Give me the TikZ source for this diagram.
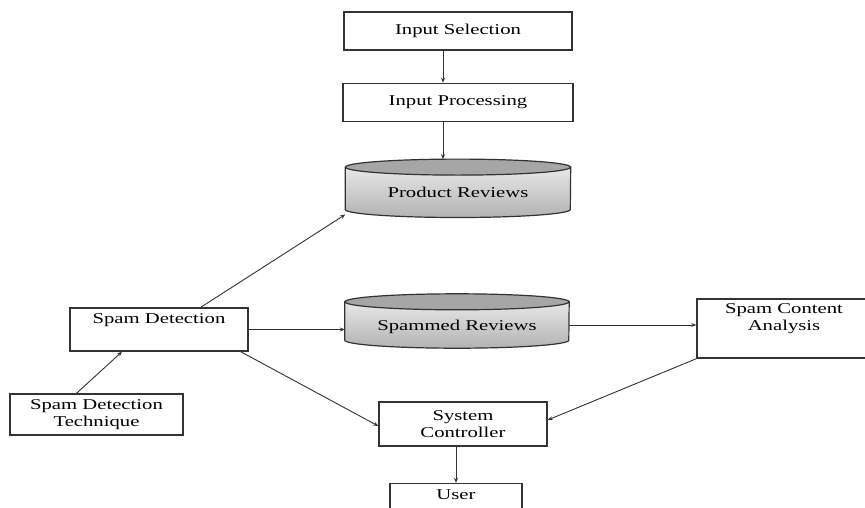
\documentclass[tikz,border=0pt]{standalone}
\usepackage{fontspec}
\setmainfont[FakeStretch=1.38]{Liberation Serif}
\usetikzlibrary{arrows.meta,%
                backgrounds,positioning,%
                calc
              }
\definecolor{boxline}{HTML}{333333}
\definecolor{cyltop}{HTML}{A6A6A6}
\definecolor{cyllight}{HTML}{E8E8E8}
\definecolor{cyldark}{HTML}{B2B2B2}
\def\setofcylinders{PR/112.5pt, SR/112pt}

\begin{document}
\begin{tikzpicture}[x=1pt,y=-1pt,
    every node/.style={font=\fontsize{15}{17}\selectfont,align=center,inner sep=0pt},
    procbox/.style={rectangle,draw=boxline,line width=1.4pt},
    dbbox/.style={rectangle},
    flow/.style={draw=boxline,line width=0.9pt,-{Stealth[length=5pt,width=4pt]}}]

    \useasboundingbox (0,0) rectangle (865,507);

    %% DRAW BOXES
    \node[procbox,minimum width=228pt,minimum height=38pt] (IS) at (458,31) {Input Selection};
    \node[procbox,minimum width=230pt,minimum height=38pt,below=32pt of IS] (IP) {Input Processing};
    \node[dbbox,minimum width=225pt,minimum height=58pt,below=37pt of IP] (PR) {\raisebox{-9pt}[0pt][0pt]{Product Reviews}};
    \node[procbox,minimum width=178pt,minimum height=43pt] (SD) at (159,329.5) {Spam Detection\\\strut};
    \node[procbox,minimum width=173pt,minimum height=41pt] (SDT) at (96.5,414.5) {Spam Detection\\Technique};
    \node[dbbox,minimum width=224pt,minimum height=54pt] (SR) at (457,321) {\raisebox{-9pt}[0pt][0pt]{Spammed Reviews}};
    \node[procbox,minimum width=174pt,minimum height=59pt] (SCA) at (784,328.5) {Spam Content\\Analysis\\\strut};
    \node[procbox,minimum width=168pt,minimum height=44pt] (SC) at (463,424) {System\\Controller};
    \node[procbox,minimum width=132pt,minimum height=44pt] (U) at (456,505.5) {User\\\strut};

    %% DRAW CYLINDERS
    \begin{pgfonlayer}{background}
      \foreach \cyl/\rx in \setofcylinders {%
        \draw[boxline,line width=1.2pt,top color=cyllight,bottom color=cyldark]
          ([yshift=-8pt]\cyl.north west) -- ([yshift=8pt]\cyl.south west)
          arc[start angle=180,end angle=360,x radius=\rx,y radius=8pt]
          -- ([yshift=-8pt]\cyl.north east) -- cycle;
        \draw[boxline,line width=1.2pt,fill=cyltop]
          ([yshift=-8pt]\cyl.north) ellipse [x radius=\rx,y radius=8pt];
      }
    \end{pgfonlayer}

    %% DRAW CONNECTORS
    \draw[flow] ([xshift=-15pt]IS.south) -- ([xshift=-15pt]IP.north);
    \draw[flow] ([xshift=-15pt]IP.north |- IP.south) -- ([xshift=-15pt]IP.north |- PR.north);
    \draw[flow] (SD.28) -- ([yshift=3pt]PR.south west);
    \draw[flow] (SD.east) -- (SD.east -| SR.west);
    \draw[flow] ([yshift=-4pt]SR.east) -- ([yshift=-4pt]SR.east -| SCA.west);
    \draw[flow] ([xshift=-8pt]SD.south east) -- ([yshift=-2pt]SC.west);
    \draw[flow] (SCA.south west) -- ([yshift=4pt]SC.east);
    \draw[flow] (SC.south -| U.north) -- (U.north);
    \draw[flow] ([xshift=-20pt]SDT.north) -- ([xshift=-37pt]SD.south);

  \end{tikzpicture}
\end{document}
